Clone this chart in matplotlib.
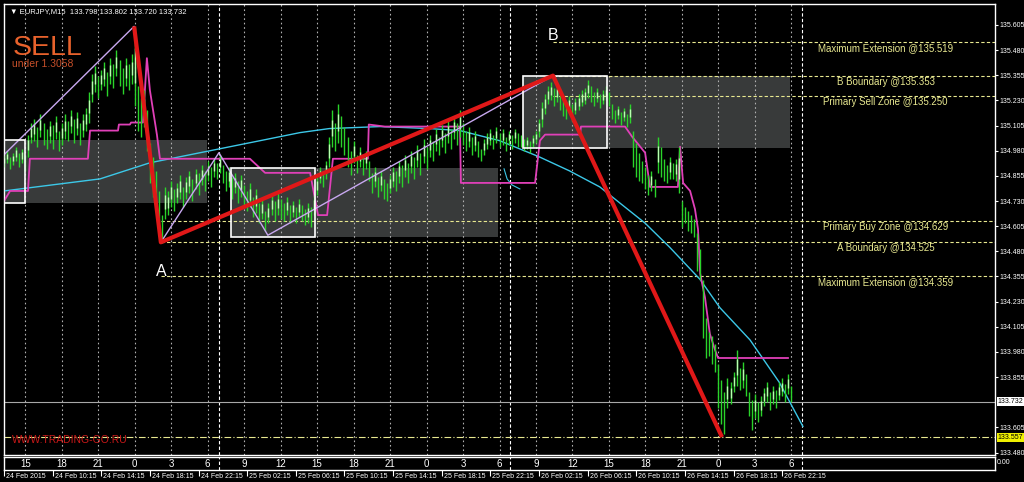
import matplotlib.pyplot as plt
import numpy as np
from matplotlib.patches import Rectangle

plt.rcParams['font.family'] = ['Liberation Sans', 'DejaVu Sans']

# EURJPY M15 bars (high / low)
highs = [134.96, 134.98, 134.95, 134.97, 135.00, 134.97, 134.99, 134.96, 135.06, 135.12,
         135.14, 135.10, 135.16, 135.12, 135.09, 135.13, 135.11, 135.15, 135.08, 135.12,
         135.16, 135.13, 135.18, 135.14, 135.17, 135.12, 135.16, 135.19, 135.27, 135.36,
         135.40, 135.35, 135.38, 135.42, 135.37, 135.44, 135.41, 135.48, 135.43, 135.39,
         135.44, 135.41, 135.46, 135.59, 135.30, 135.24, 135.28, 135.18, 135.02, 134.95,
         134.88, 134.78, 134.66, 134.80, 134.78, 134.83, 134.79, 134.82, 134.86, 134.80,
         134.85, 134.88, 134.84, 134.89, 134.87, 134.91, 134.88, 134.93, 134.90, 134.94,
         134.92, 134.96, 134.91, 134.88, 134.90, 134.85, 134.87, 134.83, 134.86, 134.81,
         134.78, 134.82, 134.75, 134.79, 134.72, 134.74, 134.68, 134.72, 134.76, 134.73,
         134.77, 134.74, 134.72, 134.75, 134.71, 134.73, 134.70, 134.74, 134.71, 134.69,
         134.72, 134.70, 134.76, 134.85, 134.90, 134.88, 134.93, 135.05, 135.18, 135.12,
         135.21, 135.15, 135.10, 135.05, 134.98, 135.03, 134.96, 135.00, 134.95, 134.98,
         134.93, 134.87, 134.90, 134.85, 134.88, 134.84, 134.82, 134.86, 134.90, 134.88,
         134.93, 134.91, 134.96, 134.92, 134.98, 134.95, 135.01, 134.97, 135.04, 135.00,
         135.06, 135.03, 135.09, 135.05, 135.11, 135.07, 135.13, 135.09, 135.15, 135.12,
         135.18, 135.12, 135.08, 135.10, 135.05, 135.08, 135.03, 134.99, 135.04, 135.07,
         135.09, 135.06, 135.10, 135.07, 135.09, 135.05, 135.08, 135.06, 135.09, 135.07,
         135.06, 135.04, 135.05, 135.03, 135.06, 135.08, 135.14, 135.22, 135.26, 135.30,
         135.32, 135.29, 135.31, 135.27, 135.24, 135.22, 135.25, 135.21, 135.24, 135.26,
         135.28, 135.29, 135.33, 135.30, 135.27, 135.29, 135.26, 135.28, 135.30, 135.27,
         135.21, 135.18, 135.20, 135.17, 135.19, 135.16, 135.21, 135.08, 135.02, 134.97,
         134.93, 134.90, 134.86, 134.88, 134.84, 135.05, 135.00, 134.94, 134.91, 134.95,
         134.92, 134.94, 135.00, 134.73, 134.70, 134.68, 134.66, 134.64, 134.57, 134.49,
         134.34, 134.15, 134.08, 134.06, 134.02, 133.92, 133.84, 133.78, 133.85, 133.83,
         133.88, 133.99, 133.90, 133.93, 133.87, 133.78, 133.74, 133.77, 133.73, 133.76,
         133.80, 133.83, 133.78, 133.81, 133.79, 133.83, 133.85, 133.82, 133.87, 133.81]
lows = [134.90, 134.92, 134.89, 134.91, 134.93, 134.90, 134.92, 134.88, 134.95, 135.02,
        135.03, 135.00, 135.05, 135.01, 134.99, 135.02, 134.99, 135.04, 134.98, 135.01,
        135.04, 135.03, 135.07, 135.02, 135.06, 135.01, 135.05, 135.08, 135.12, 135.22,
        135.27, 135.24, 135.28, 135.30, 135.25, 135.31, 135.29, 135.35, 135.30, 135.26,
        135.30, 135.28, 135.31, 135.20, 135.08, 135.05, 135.10, 134.98, 134.82, 134.75,
        134.68, 134.58, 134.52, 134.64, 134.66, 134.70, 134.68, 134.72, 134.74, 134.70,
        134.74, 134.77, 134.73, 134.79, 134.76, 134.81, 134.78, 134.83, 134.80, 134.85,
        134.84, 134.87, 134.82, 134.78, 134.80, 134.74, 134.77, 134.72, 134.75, 134.70,
        134.68, 134.70, 134.65, 134.67, 134.62, 134.64, 134.58, 134.62, 134.66, 134.63,
        134.66, 134.64, 134.63, 134.66, 134.62, 134.65, 134.62, 134.65, 134.63, 134.61,
        134.62, 134.60, 134.66, 134.76, 134.82, 134.80, 134.84, 134.90, 135.00, 134.98,
        135.02, 135.00, 134.96, 134.90, 134.86, 134.92, 134.87, 134.90, 134.86, 134.89,
        134.83, 134.77, 134.80, 134.75, 134.78, 134.74, 134.73, 134.77, 134.80, 134.78,
        134.82, 134.80, 134.85, 134.82, 134.87, 134.84, 134.90, 134.86, 134.92, 134.89,
        134.95, 134.93, 134.98, 134.96, 135.00, 134.97, 135.02, 134.99, 135.04, 135.01,
        135.05, 135.01, 134.98, 135.00, 134.96, 134.98, 134.95, 134.93, 134.96, 134.99,
        135.01, 134.99, 135.02, 135.00, 135.01, 134.98, 135.01, 134.99, 135.02, 135.00,
        135.00, 134.98, 134.99, 134.97, 135.00, 135.02, 135.05, 135.10, 135.16, 135.21,
        135.23, 135.20, 135.22, 135.18, 135.15, 135.14, 135.17, 135.13, 135.16, 135.18,
        135.20, 135.21, 135.24, 135.22, 135.20, 135.22, 135.19, 135.21, 135.23, 135.20,
        135.14, 135.12, 135.14, 135.11, 135.13, 135.10, 135.12, 134.90, 134.85, 134.83,
        134.82, 134.79, 134.76, 134.78, 134.75, 134.87, 134.85, 134.83, 134.82, 134.84,
        134.84, 134.83, 134.77, 134.60, 134.62, 134.58, 134.57, 134.55, 134.38, 134.34,
        134.05, 133.95, 133.96, 133.92, 133.88, 133.70, 133.62, 133.57, 133.70, 133.72,
        133.78, 133.81, 133.79, 133.80, 133.76, 133.66, 133.59, 133.65, 133.63, 133.66,
        133.71, 133.73, 133.69, 133.72, 133.70, 133.74, 133.76, 133.73, 133.77, 133.73]

# magenta step indicator (bar index, price)
step_i = [0, 2, 7.9, 8.5, 27.6, 28.3, 37.5, 37.8, 41.4, 41.8, 45.7, 47, 48, 50.3, 51.3,
          80.9, 81.6, 85.9, 100.7, 103.3, 106.3, 108.2, 119.7, 120, 125.3, 150, 150.3,
          174.7, 176.3, 178, 189.5, 189.8, 204.3, 206.6, 210.9, 212.5, 221.7, 222.4,
          223.4, 225.7, 227.3, 228.3, 229, 230.6, 232.2, 233.9, 234.9, 257.9]
step_p = [134.73, 134.78, 134.78, 134.94, 134.94, 135.08, 135.08, 135.11, 135.11, 135.12,
          135.12, 135.44, 135.28, 135.06, 134.94, 134.94, 134.93, 134.87, 134.87, 134.66,
          134.66, 134.94, 134.94, 135.11, 135.10, 135.10, 134.82, 134.82, 135.03, 135.06,
          135.06, 135.10, 135.10, 135.05, 134.97, 134.80, 134.80, 135.00, 134.82, 134.78,
          134.69, 134.59, 134.37, 134.25, 134.07, 133.99, 133.95, 133.95]

# cyan regression arc
arc_i = [0, 31.6, 48, 64.5, 81, 97.4, 107, 123.7, 140, 150, 163, 176, 186, 196, 202.6,
         210.9, 219, 229, 235.5, 245.4, 255, 262.8]
arc_p = [134.78, 134.84, 134.92, 134.97, 135.02, 135.07, 135.09, 135.10, 135.09, 135.08,
         135.03, 134.95, 134.88, 134.80, 134.72, 134.62, 134.50, 134.34, 134.20, 134.04,
         133.83, 133.61]
arc2_i = [164.5, 165.5, 167.1, 169.7]
arc2_p = [134.89, 134.84, 134.81, 134.79]

# zigzag (thin) and A-B-C (thick red)
zz_i = [0, 42.8, 51.6, 70.7, 86.8, 180.6]
zz_p = [134.96, 135.598, 134.525, 134.97, 134.56, 135.353]
abc_i = [42.8, 51.6, 180.6, 236.2]
abc_p = [135.598, 134.525, 135.353, 133.557]

# zones: (i0, i1, low, high)
zones = [(0, 66.8, 134.72, 135.033), (74.7, 162.5, 134.551, 134.894),
         (170.7, 258.6, 134.993, 135.353)]
boxes = [(0, 6.9, 134.72, 135.033), (74.7, 102.3, 134.551, 134.894),
         (170.7, 198.4, 134.993, 135.353)]

# levels: (price, start bar, label)
levels = [(135.519, 180.6, 'Maximum Extension @135.519'),
          (135.353, 180.6, 'B Boundary @135.353'),
          (135.250, 180.6, 'Primary Sell Zone @135.250'),
          (134.629, 51.6, 'Primary Buy Zone @134.629'),
          (134.525, 51.6, 'A Boundary @134.525'),
          (134.359, 51.6, 'Maximum Extension @134.359')]
last_price = 133.732
target_price = 133.557

hour_i = [7 + 12 * k for k in range(22)]
hour_lbl = ['15', '18', '21', '0', '3', '6', '9', '12', '15', '18', '21',
            '0', '3', '6', '9', '12', '15', '18', '21', '0', '3', '6']
sep_i = [70.7, 166.4, 262.5]
date_i = [16 * k for k in range(17)]
date_lbl = ['24 Feb 2015', '24 Feb 10:15', '24 Feb 14:15', '24 Feb 18:15', '24 Feb 22:15',
            '25 Feb 02:15', '25 Feb 06:15', '25 Feb 10:15', '25 Feb 14:15', '25 Feb 18:15',
            '25 Feb 22:15', '26 Feb 02:15', '26 Feb 06:15', '26 Feb 10:15', '26 Feb 14:15',
            '26 Feb 18:15', '26 Feb 22:15']
price_ticks = [135.605, 135.480, 135.355, 135.230, 135.105, 134.980, 134.855, 134.730,
               134.605, 134.480, 134.355, 134.230, 134.105, 133.980, 133.855, 133.605,
               133.480]

W, H = 1024, 482
fig = plt.figure(figsize=(W / 100, H / 100), dpi=100, facecolor='black')
ax = fig.add_axes([4 / W, (H - 455) / H, 991 / W, 451 / H], facecolor='black')
ax.set_xlim(0, 326)
ax.set_ylim(133.468, 135.709)

for s in ax.spines.values():
    s.set_color('white')
    s.set_linewidth(1)
ax.set_xticks([])
ax.yaxis.tick_right()
ax.set_yticks(price_ticks)
ax.set_yticklabels(['%.3f' % p for p in price_ticks])
ax.tick_params(axis='y', colors='white', labelsize=5, length=2, pad=1)

# zones
for i0, i1, lo, hi in zones:
    ax.add_patch(Rectangle((i0, lo), i1 - i0, hi - lo, facecolor='#383a3a',
                           edgecolor='none', zorder=1))

# grid
for x in hour_i:
    ax.axvline(x, color='#b0b0b0', lw=0.8, ls=(0, (1.5, 2.5)), zorder=1.5)
for x in sep_i:
    ax.axvline(x, color='white', lw=0.8, ls=(0, (3, 2)), zorder=1.5)

# levels
for p, start, lbl in levels:
    ax.plot([start, 326], [p, p], color='#e8e890', lw=0.8, ls=(0, (3, 2)), zorder=2)
    ax.text(290, p - 0.03, lbl, color='#e8e890', fontsize=7, ha='center', va='center',
            zorder=7)
ax.axhline(target_price, color='#e8e890', lw=0.8, ls=(0, (6, 2, 1, 2)), zorder=2)
ax.axhline(last_price, color='#a8a8a8', lw=0.8, zorder=2)

# indicators
ax.plot(arc_i, arc_p, color='#3cc8e8', lw=1.0, zorder=3)
ax.plot(arc2_i, arc2_p, color='#3cc8e8', lw=0.8, zorder=3)
ax.plot(step_i, step_p, color='#e040b8', lw=1.3, zorder=3)

# bars
hi = np.array(highs)
lo = np.array(lows)
idx = np.arange(len(hi))
mid = (hi + lo) / 2
up = np.r_[True, mid[1:] >= mid[:-1]]
ax.vlines(idx, lo, hi, color='#2ad42a', lw=1.0, zorder=4)
ax.vlines(idx[up], (lo + 0.3 * (hi - lo))[up], (lo + 0.75 * (hi - lo))[up],
          color='#b8ffb0', lw=1.0, zorder=4)

# zigzag and boxes
ax.plot(zz_i, zz_p, color='#c8a8f0', lw=1.0, zorder=5)
for i0, i1, lo_, hi_ in boxes:
    ax.add_patch(Rectangle((i0, lo_), i1 - i0, hi_ - lo_, facecolor='none',
                           edgecolor='white', lw=1.2, zorder=5))
ax.plot(abc_i, abc_p, color='#e01818', lw=3, solid_capstyle='butt', zorder=6)

# texts
ax.text(3, 135.49, 'SELL', color='#e8622c', fontsize=20.5, ha='left', va='center', zorder=7)
ax.text(2.6, 135.41, 'under 1.3058', color='#c8502a', fontsize=7.5, ha='left', va='center',
        zorder=7)
ax.text(51.6, 134.38, 'A', color='white', fontsize=11.5, ha='center', va='center', zorder=7)
ax.text(180.6, 135.55, 'B', color='white', fontsize=11.5, ha='center', va='center', zorder=7)
ax.text(2.5, 133.545, 'WWW.TRADING-GO.RU', color='#c81818', fontsize=7.5, ha='left',
        va='center', zorder=7)
ax.text(0.006, 0.99, '\u25bc EURJPY,M15  133.798 133.802 133.720 133.732', color='white',
        fontsize=5.5, ha='left', va='top', transform=ax.transAxes, zorder=7)

# highlighted price labels
ax.annotate('%.3f' % last_price, xy=(1, last_price), xycoords=('axes fraction', 'data'),
            xytext=(2, 0), textcoords='offset points', fontsize=5, color='black',
            va='center', ha='left',
            bbox=dict(boxstyle='square,pad=0.15', fc='white', ec='none'), annotation_clip=False)
ax.annotate('%.3f' % target_price, xy=(1, target_price), xycoords=('axes fraction', 'data'),
            xytext=(2, 0), textcoords='offset points', fontsize=5, color='black',
            va='center', ha='left',
            bbox=dict(boxstyle='square,pad=0.15', fc='#f0f000', ec='none'), annotation_clip=False)

# hour strip and dates
ax2 = fig.add_axes([4 / W, (H - 470) / H, 991 / W, 13 / H], facecolor='black')
ax2.set_xlim(0, 326)
ax2.set_ylim(0, 1)
for s in ax2.spines.values():
    s.set_color('white')
    s.set_linewidth(1)
ax2.set_yticks([])
for x, t in zip(hour_i, hour_lbl):
    ax2.text(x, 0.45, t, color='white', fontsize=7, ha='center', va='center')
for x in sep_i:
    ax2.axvline(x, color='white', lw=0.8, ls=(0, (3, 2)))
ax2.set_xticks(date_i)
ax2.set_xticklabels([' ' + d for d in date_lbl], ha='left')
ax2.tick_params(axis='x', colors='white', labelsize=5, length=4, pad=-2)
fig.text(997 / W, 1 - 463 / H, '0.00', color='white', fontsize=5, ha='left', va='center')

fig.savefig('out.png', dpi=100, facecolor='black')
